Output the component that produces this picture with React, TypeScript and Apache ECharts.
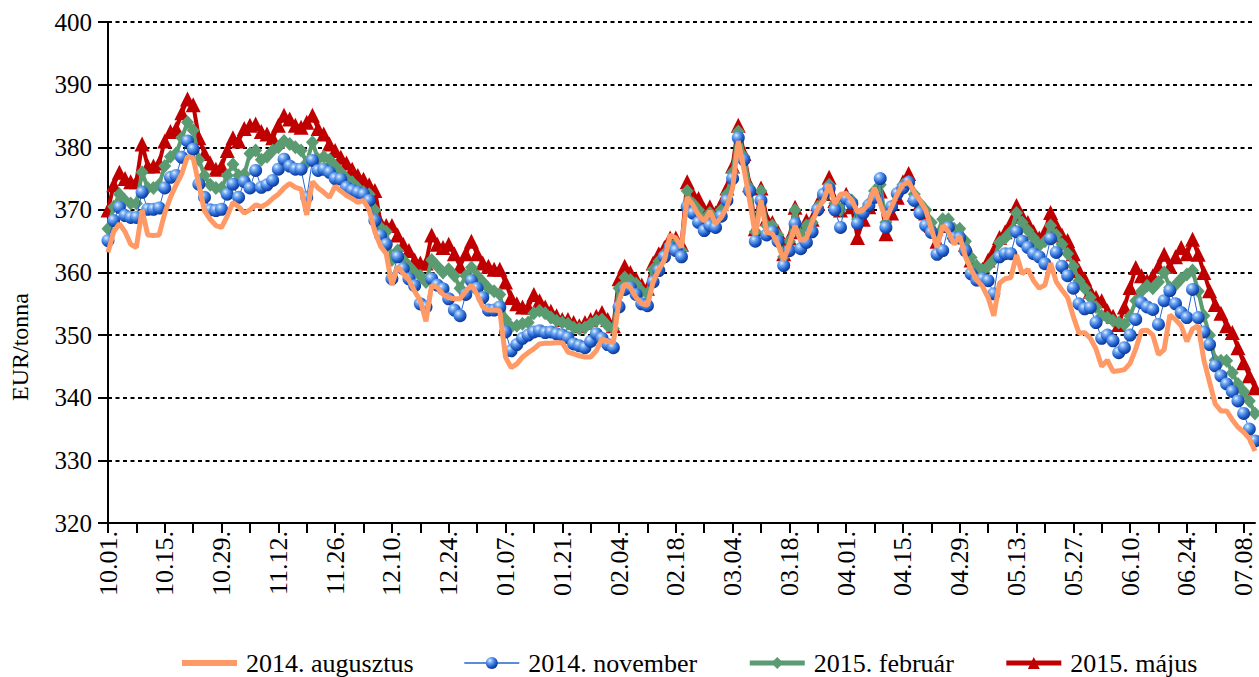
import { useEffect, useRef } from "react";
import * as echarts from "echarts";

const categories = [
  "10.01.","10.02.","10.03.","10.06.","10.07.","10.08.","10.09.","10.10.","10.13.","10.14.","10.15.","10.16.","10.17.","10.20.","10.21.","10.22.","10.23.","10.24.","10.27.","10.28.","10.29.","10.30.","10.31.",
  "11.03.","11.04.","11.05.","11.06.","11.07.","11.10.","11.11.","11.12.","11.13.","11.14.","11.17.","11.18.","11.19.","11.20.","11.21.","11.24.","11.25.","11.26.","11.27.","11.28.",
  "12.01.","12.02.","12.03.","12.04.","12.05.","12.08.","12.09.","12.10.","12.11.","12.12.","12.15.","12.16.","12.17.","12.18.","12.19.","12.22.","12.23.","12.24.","12.25.","12.26.","12.29.","12.30.","12.31.",
  "01.01.","01.02.","01.05.","01.06.","01.07.","01.08.","01.09.","01.12.","01.13.","01.14.","01.15.","01.16.","01.19.","01.20.","01.21.","01.22.","01.23.","01.26.","01.27.","01.28.","01.29.","01.30.",
  "02.02.","02.03.","02.04.","02.05.","02.06.","02.09.","02.10.","02.11.","02.12.","02.13.","02.16.","02.17.","02.18.","02.19.","02.20.","02.23.","02.24.","02.25.","02.26.","02.27.",
  "03.02.","03.03.","03.04.","03.05.","03.06.","03.09.","03.10.","03.11.","03.12.","03.13.","03.16.","03.17.","03.18.","03.19.","03.20.","03.23.","03.24.","03.25.","03.26.","03.27.","03.30.","03.31.",
  "04.01.","04.02.","04.03.","04.06.","04.07.","04.08.","04.09.","04.10.","04.13.","04.14.","04.15.","04.16.","04.17.","04.20.","04.21.","04.22.","04.23.","04.24.","04.27.","04.28.","04.29.","04.30.",
  "05.01.","05.04.","05.05.","05.06.","05.07.","05.08.","05.11.","05.12.","05.13.","05.14.","05.15.","05.18.","05.19.","05.20.","05.21.","05.22.","05.25.","05.26.","05.27.","05.28.","05.29.",
  "06.01.","06.02.","06.03.","06.04.","06.05.","06.08.","06.09.","06.10.","06.11.","06.12.","06.15.","06.16.","06.17.","06.18.","06.19.","06.22.","06.23.","06.24.","06.25.","06.26.","06.29.","06.30.",
  "07.01.","07.02.","07.03.","07.06.","07.07.","07.08.","07.09.","07.10."
];

const aug2014 = [
  363.2,366.5,367.8,366.5,364.5,364.0,370.0,366.0,365.9,366.0,
  369.5,372.0,374.0,375.8,378.5,378.3,374.0,369.8,368.5,367.5,
  367.2,369.0,371.2,370.5,369.5,370.0,370.8,370.5,371.0,371.8,
  372.5,373.5,374.2,373.6,373.3,369.2,374.5,373.5,372.8,372.0,
  373.8,373.0,372.3,371.8,371.2,371.5,370.0,366.5,364.2,363.0,
  358.0,361.0,359.8,358.8,357.0,355.5,352.2,358.0,357.6,356.5,
  356.0,355.8,355.8,357.0,358.0,356.5,354.5,354.0,354.0,353.9,
  346.5,344.8,345.4,346.5,347.2,347.8,348.6,348.7,348.7,348.8,
  348.8,347.3,347.0,346.7,346.5,346.5,347.5,349.4,349.0,348.8,
  355.5,358.2,357.6,356.0,355.0,354.8,358.5,360.5,362.0,366.0,
  365.5,364.0,372.0,370.8,369.2,368.2,369.8,367.8,368.8,370.5,
  373.5,381.0,376.5,371.5,366.0,371.5,366.4,366.2,364.5,362.0,
  364.5,367.5,365.1,365.5,368.0,370.2,371.5,374.0,371.0,372.5,
  372.6,371.5,369.7,370.0,371.0,373.5,371.0,368.5,370.5,372.5,
  374.0,374.5,372.8,371.5,370.0,367.0,364.0,367.5,366.5,364.5,
  365.8,362.5,360.5,358.8,357.8,356.0,353.1,358.3,359.0,359.2,
  362.8,359.8,360.5,358.7,357.5,358.0,361.5,358.5,357.2,356.0,
  353.0,350.3,350.4,349.5,347.8,345.0,346.0,344.2,344.3,344.5,
  345.5,347.8,350.7,350.8,350.0,346.9,347.7,353.2,352.5,351.5,
  349.0,351.0,351.5,346.0,342.5,339.0,337.9,337.9,336.5,335.3,
  334.5,333.5,331.5
];

const nov2014 = [
  365.1,368.3,370.4,369.1,368.8,368.8,372.8,370.1,370.1,370.3,
  373.5,375.2,375.5,378.4,381.0,379.7,374.1,372.0,370.0,369.9,
  370.1,372.5,374.1,372.0,374.5,373.5,376.3,373.6,374.0,374.7,
  376.5,378.1,377.0,376.5,376.5,372.0,377.9,376.3,376.5,376.0,
  375.0,374.9,373.6,373.1,372.8,372.5,371.5,368.3,365.9,364.5,
  359.0,362.5,360.6,359.0,357.9,355.0,354.5,359.0,358.0,357.4,
  355.8,354.0,353.1,356.5,358.7,357.5,356.0,354.0,354.0,354.5,
  350.5,347.5,348.5,349.5,350.0,350.5,350.7,350.4,350.5,350.2,
  350.0,349.6,348.6,348.3,348.0,349.0,350.2,349.5,348.5,348.0,
  354.5,357.3,357.6,356.5,355.0,354.7,358.5,360.3,362.5,364.0,
  363.5,362.5,370.5,369.5,368.0,366.7,367.5,367.2,369.0,371.5,
  375.0,381.5,378.0,373.0,365.0,371.5,366.0,366.5,365.0,361.1,
  363.5,367.8,363.8,364.8,366.5,370.0,372.5,373.4,370.0,367.2,
  371.8,371.0,367.8,369.5,370.7,372.0,375.0,367.2,370.5,372.6,
  373.5,374.4,371.5,369.5,367.5,366.4,362.9,363.5,367.2,365.5,
  365.5,363.5,359.8,358.8,359.0,358.7,356.6,362.5,363.0,363.0,
  366.5,365.0,364.0,363.0,362.5,361.4,365.4,363.2,361.0,359.5,
  357.5,355.0,354.2,354.4,352.0,349.5,350.0,349.1,347.2,348.0,
  350.0,352.5,355.2,354.5,354.1,351.7,355.5,357.1,355.0,353.6,
  352.8,357.3,352.8,350.5,348.5,345.1,343.5,342.2,341.0,339.5,
  337.5,335.0,333.1
];

const feb2015 = [
  367.0,370.5,372.5,371.5,371.0,371.0,376.0,373.5,373.5,374.0,
  377.0,378.5,379.0,381.5,384.0,382.7,378.0,375.5,374.0,373.5,
  373.5,375.5,377.3,375.5,375.7,379.0,379.5,378.0,378.5,379.5,
  380.0,381.0,380.5,380.0,379.5,377.5,380.8,378.1,378.5,378.0,
  377.0,376.0,375.0,374.4,373.5,372.8,372.5,370.0,367.2,366.5,
  362.0,363.5,362.0,361.0,360.0,359.5,358.5,362.0,361.0,360.0,
  360.5,359.5,357.5,359.5,360.8,359.5,358.5,357.5,357.0,356.5,
  352.5,351.3,351.5,351.8,352.0,353.5,353.9,353.5,352.8,352.3,
  352.0,351.8,351.2,351.0,351.2,351.8,352.3,352.5,351.5,351.0,
  357.5,359.2,358.8,358.2,357.0,356.6,360.5,361.8,363.0,364.5,
  364.5,363.5,373.0,371.0,370.0,368.5,369.5,368.5,370.0,372.5,
  376.0,382.5,378.5,373.5,366.5,373.0,367.5,367.5,366.0,362.5,
  365.0,370.0,366.0,367.5,368.0,370.5,372.0,374.0,371.0,370.0,
  372.0,371.5,368.5,369.5,371.0,373.0,374.0,368.0,370.5,372.5,
  374.0,374.5,372.5,371.0,370.0,368.0,366.0,368.5,368.5,367.0,
  367.0,365.0,362.4,361.0,360.3,361.0,362.0,364.8,365.5,366.5,
  369.5,368.0,366.7,365.5,364.3,365.0,367.5,366.0,364.5,363.0,
  361.0,358.7,357.5,356.0,354.5,353.1,352.8,352.3,352.0,351.7,
  353.0,355.5,357.0,357.9,357.5,358.5,360.0,357.6,358.0,359.0,
  359.7,360.3,357.0,353.1,350.0,346.0,345.9,345.9,344.0,342.2,
  341.0,339.5,337.5
];

const maj2015 = [
  370.0,374.0,376.0,375.0,374.5,374.5,380.5,377.0,377.0,377.5,
  381.0,382.5,383.0,385.5,387.7,386.8,381.5,379.0,377.5,376.5,
  377.0,379.5,381.5,381.0,383.0,383.5,383.7,382.5,382.1,381.5,
  383.5,385.1,384.5,383.5,383.2,384.0,385.1,383.0,382.1,380.5,
  379.5,378.4,377.5,376.5,375.5,374.9,374.0,373.1,368.0,367.5,
  367.5,366.0,364.5,363.5,362.0,361.5,361.5,366.0,364.5,364.0,
  364.5,363.0,361.0,363.0,365.0,363.0,361.5,361.0,360.5,360.5,
  358.5,356.0,355.0,354.5,354.5,356.5,355.5,354.5,353.8,353.1,
  352.5,352.5,352.0,351.5,352.0,352.5,353.0,353.6,352.5,351.5,
  359.0,361.0,360.0,359.0,358.0,357.5,361.5,363.0,364.0,365.5,
  365.5,364.5,374.5,372.5,371.8,370.0,370.5,369.5,371.0,373.5,
  377.0,383.5,379.0,374.0,367.0,373.5,368.6,368.0,366.5,363.0,
  365.5,370.4,366.5,368.3,368.5,371.0,372.6,375.2,371.5,370.0,
  372.5,370.5,365.6,368.5,370.5,372.5,373.0,366.2,369.5,372.0,
  374.5,375.8,372.5,371.0,369.5,367.5,365.0,367.5,367.5,366.5,
  366.5,364.5,362.0,361.0,360.5,362.0,363.5,365.6,366.5,368.0,
  370.7,369.0,368.0,366.5,365.5,366.5,369.6,367.5,366.0,365.1,
  363.0,360.3,359.0,357.0,356.0,355.5,353.9,353.0,351.7,354.5,
  357.6,360.8,359.5,358.7,359.5,361.0,362.9,361.0,362.5,364.0,
  363.0,365.3,362.9,360.0,357.1,354.9,353.5,351.5,350.4,348.0,
  345.6,343.5,341.6
];

const seriesNames = ["2014. augusztus", "2014. november", "2015. február", "2015. május"];
const yAxisTitle = "EUR/tonna";

export default function App() {
  const ref = useRef<HTMLDivElement>(null);
  useEffect(() => {
    if (!ref.current) return;
    const chart = echarts.init(ref.current, null, { renderer: "svg" });
    const font = "'Liberation Serif', 'Times New Roman', serif";
    const sphere = new echarts.graphic.RadialGradient(0.35, 0.3, 0.75, [
      { offset: 0, color: "#e4f0ff" },
      { offset: 0.25, color: "#78aef2" },
      { offset: 0.65, color: "#2362d0" },
      { offset: 1, color: "#0b2f86" },
    ]);
    chart.setOption({
      animation: false,
      textStyle: { fontFamily: font, color: "#000" },
      grid: { left: 108, right: 4, top: 22, bottom: 154, containLabel: false },
      graphic: [
        {
          type: "text",
          x: 20,
          y: 347,
          rotation: Math.PI / 2,
          style: {
            text: yAxisTitle,
            fontFamily: font,
            fontSize: 24,
            fill: "#000",
            textAlign: "center",
            textVerticalAlign: "middle",
          },
        },
      ],
      legend: {
        left: 177,
        top: 645,
        itemWidth: 55,
        itemHeight: 15,
        itemGap: 50,
        data: [
          { name: seriesNames[0], icon: "path://M0,0H55V6H0Z", itemStyle: { color: "#FF9966" } },
          { name: seriesNames[1], lineStyle: { width: 1.5 } },
          { name: seriesNames[2], lineStyle: { width: 5 } },
          { name: seriesNames[3], lineStyle: { width: 5 } },
        ],
        textStyle: { fontFamily: font, fontSize: 26, color: "#000", padding: [0, 0, 0, 4] },
      },
      xAxis: {
        type: "category",
        data: categories,
        boundaryGap: false,
        axisLine: { lineStyle: { color: "#000", width: 2 } },
        axisTick: { interval: 4, length: 10, lineStyle: { color: "#000", width: 2 } },
        axisLabel: { interval: 9, rotate: 90, color: "#000", fontSize: 26, fontFamily: font, margin: 8 },
        splitLine: { show: false },
      },
      yAxis: {
        type: "value",
        min: 320,
        max: 400,
        interval: 10,
        axisLine: { show: true, lineStyle: { color: "#000", width: 2 } },
        axisTick: { show: true, length: 10, lineStyle: { color: "#000", width: 2 } },
        axisLabel: { color: "#000", fontSize: 25, fontFamily: font, margin: 16 },
        splitLine: { show: true, lineStyle: { color: "#000", width: 2, type: [4, 3.5] } },
      },
      series: [
        {
          name: seriesNames[3],
          type: "line",
          data: maj2015,
          z: 2,
          symbol: "triangle",
          symbolSize: [15, 15],
          showSymbol: true,
          showAllSymbol: true,
          lineStyle: { color: "#C00000", width: 4 },
          itemStyle: { color: "#C00000" },
          emphasis: { disabled: true },
        },
        {
          name: seriesNames[2],
          type: "line",
          data: feb2015,
          z: 3,
          symbol: "diamond",
          symbolSize: [13, 14],
          showSymbol: true,
          showAllSymbol: true,
          lineStyle: { color: "#5B9B72", width: 4 },
          itemStyle: { color: "#5B9B72" },
          emphasis: { disabled: true },
        },
        {
          name: seriesNames[1],
          type: "line",
          data: nov2014,
          z: 4,
          symbol: "circle",
          symbolSize: 13,
          showSymbol: true,
          showAllSymbol: true,
          lineStyle: { color: "#2366d1", width: 1 },
          itemStyle: { color: sphere },
          emphasis: { disabled: true },
        },
        {
          name: seriesNames[0],
          type: "line",
          data: aug2014,
          z: 5,
          symbol: "none",
          showSymbol: false,
          lineStyle: { color: "#FF9966", width: 5 },
          itemStyle: { color: "#FF9966" },
          emphasis: { disabled: true },
        },
      ],
    });
    return () => chart.dispose();
  }, []);
  return (
    <div
      ref={ref}
      style={{ position: "absolute", left: 0, top: 0, width: 1259, height: 677 }}
    />
  );
}
